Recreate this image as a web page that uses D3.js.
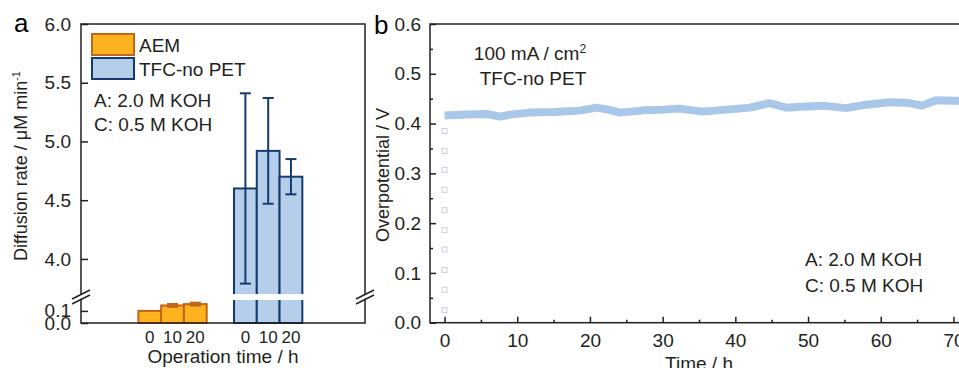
<!DOCTYPE html>
<html>
<head>
<meta charset="utf-8">
<script src="https://cdn.jsdelivr.net/npm/d3@7"></script>
<style>
  body { margin: 0; background: #fff; }
  svg { font-family: "Liberation Sans", Arial, sans-serif; }
</style>
</head>
<body>
<svg id="chart" width="959" height="368"></svg>
<script>
// ---- panel a data ----
const groups = ["AEM", "TFC-no PET"];
const times = [0, 10, 20];
const aemRate = [0.10, 0.145, 0.156];
const aemErr = [0, 0.012, 0.012];
const tfcRate = [4.60, 4.92, 4.70];
const tfcErr = [0.81, 0.45, 0.15];
const yTicksA = [0.0, 0.1, 4.0, 4.5, 5.0, 5.5, 6.0];

// ---- panel b data ----
const tHours = [0, 3, 6, 7.6, 9, 11.7, 15, 18.6, 20.9, 22.5, 24.1, 27.7, 30, 32.3, 35.5, 39.6, 42, 44.7, 47, 49, 52, 55.2, 58, 61.2, 63.5, 65.7, 67.6, 70, 72];
const overpot = [0.416, 0.418, 0.419, 0.414, 0.418, 0.422, 0.423, 0.426, 0.432, 0.428, 0.422, 0.427, 0.428, 0.430, 0.424, 0.429, 0.432, 0.441, 0.432, 0.434, 0.436, 0.431, 0.438, 0.443, 0.442, 0.436, 0.447, 0.446, 0.446];
const rampV = [0.025, 0.066, 0.106, 0.147, 0.186, 0.226, 0.267, 0.307, 0.345, 0.385];
const xTicksB = [0, 10, 20, 30, 40, 50, 60, 70];
const yTicksB = [0, 0.1, 0.2, 0.3, 0.4, 0.5, 0.6];

const svg = d3.select("#chart");
const fs = "19px";
const dark = "#231f20";

const colors = {
  "AEM": {fill: "#FDB21F", stroke: "#C0661A"},
  "TFC-no PET": {fill: "#B5CFEA", stroke: "#163A6E"}
};

// ================= panel a =================
const aL = 81, aR = 365, aT = 24, aB = 323;
// broken axis: lower part 0-0.19, upper part 3.71-6.0
const yA = d3.scaleLinear().domain([0, 0.19, 3.71, 6.0]).range([aB, 300, 293, aT]);
const x0 = d3.scaleBand().domain(groups).range([124.7, 316]);
const x1 = d3.scaleBand().domain(times).range([0, x0.bandwidth()]).paddingOuter(0.6);

const ga = svg.append("g");

const barData = [];
groups.forEach(function(g, gi) {
  times.forEach(function(t, i) {
    barData.push({
      group: g, time: t,
      v: gi === 0 ? aemRate[i] : tfcRate[i],
      e: gi === 0 ? aemErr[i] : tfcErr[i]
    });
  });
});

ga.selectAll("rect.bar").data(barData).enter().append("rect")
  .attr("class", "bar")
  .attr("x", d => x0(d.group) + x1(d.time))
  .attr("y", d => yA(d.v))
  .attr("width", x1.bandwidth())
  .attr("height", d => yA(0) - yA(d.v))
  .attr("fill", d => colors[d.group].fill)
  .attr("stroke", d => colors[d.group].stroke)
  .attr("stroke-width", 2);

// error bars
const errData = barData.filter(d => d.e > 0);
const cap = 11;
ga.selectAll("g.err").data(errData).enter().append("g")
  .each(function(d) {
    const cx = x0(d.group) + x1(d.time) + x1.bandwidth() / 2;
    const g = d3.select(this);
    const c = colors[d.group].stroke;
    g.append("line").attr("x1", cx).attr("x2", cx)
      .attr("y1", yA(d.v + d.e)).attr("y2", yA(d.v - d.e))
      .attr("stroke", c).attr("stroke-width", 2);
    [d.v + d.e, d.v - d.e].forEach(function(v) {
      g.append("line").attr("x1", cx - cap / 2).attr("x2", cx + cap / 2)
        .attr("y1", yA(v)).attr("y2", yA(v))
        .attr("stroke", c).attr("stroke-width", 2);
    });
  });

// white gap of the axis break across bars
ga.append("rect").attr("x", aL + 2).attr("y", yA(3.71) + 1)
  .attr("width", aR - aL - 4).attr("height", yA(0.19) - yA(3.71) - 1)
  .attr("fill", "#fff");

// frame
ga.append("rect").attr("x", aL).attr("y", aT).attr("width", aR - aL).attr("height", aB - aT)
  .attr("fill", "none").attr("stroke", dark).attr("stroke-width", 1.5);

// y axis
const axA = ga.append("g").attr("transform", `translate(${aL},0)`)
  .call(d3.axisLeft(yA).tickValues(yTicksA).tickSize(-7).tickPadding(10).tickFormat(d3.format(".1f")));
axA.select(".domain").remove();
axA.selectAll("line").attr("stroke", dark).attr("stroke-width", 1.5);
axA.selectAll("text").attr("font-size", fs).attr("fill", dark).attr("font-family", null);

// break marks on left and right axes
function breakMark(cx, cy) {
  const g = ga.append("g");
  g.append("polygon")
    .attr("points", `${cx - 8},${cy + 6} ${cx + 8},${cy - 3} ${cx + 8},${cy - 7} ${cx - 8},${cy + 2}`)
    .attr("fill", "#fff");
  [[cx - 9, cy + 7, cx + 9, cy - 2], [cx - 9, cy + 2, cx + 9, cy - 7]].forEach(function(p) {
    g.append("line").attr("x1", p[0]).attr("y1", p[1]).attr("x2", p[2]).attr("y2", p[3])
      .attr("stroke", dark).attr("stroke-width", 1.5);
  });
}
breakMark(aL, 297);
breakMark(aR, 297);

// x tick labels under bars
ga.selectAll("text.xt").data(barData).enter().append("text")
  .attr("class", "xt")
  .attr("x", d => x0(d.group) + x1(d.time) + x1.bandwidth() / 2)
  .attr("y", 343)
  .attr("text-anchor", "middle")
  .attr("font-size", "17px").attr("fill", dark)
  .text(d => d.time);

ga.append("text").attr("x", 223).attr("y", 363).attr("text-anchor", "middle")
  .attr("font-size", fs).attr("fill", dark).text("Operation time / h");

const yTitleA = ga.append("text")
  .attr("transform", "translate(27,166) rotate(-90)")
  .attr("text-anchor", "middle").attr("font-size", "18px").attr("fill", dark);
yTitleA.append("tspan").text("Diffusion rate / \u03bcM min");
yTitleA.append("tspan").attr("dy", -7).attr("font-size", "11px").text("-1");

// legend
groups.forEach(function(g, i) {
  const y = 34 + i * 24;
  ga.append("rect").attr("x", 92).attr("y", y).attr("width", 42).attr("height", 21)
    .attr("fill", colors[g].fill).attr("stroke", colors[g].stroke).attr("stroke-width", 2);
  ga.append("text").attr("x", 139).attr("y", y + 18).attr("font-size", fs).attr("fill", dark).text(g);
});

ga.append("text").attr("x", 94).attr("y", 107).attr("font-size", fs).attr("fill", dark).text("A: 2.0 M KOH");
ga.append("text").attr("x", 94).attr("y", 131).attr("font-size", fs).attr("fill", dark).text("C: 0.5 M KOH");

svg.append("text").attr("x", 14).attr("y", 32).attr("font-size", "26px").attr("fill", "#000").text("a");

// ================= panel b =================
const bL = 430, bT = 24, bB = 322.7;
const xB = d3.scaleLinear().domain([-2, 75]).range([bL, bL + 77 * 7.27]);
const yB = d3.scaleLinear().domain([0, 0.6]).range([bB, bT]);
const bR = xB(75);

const gb = svg.append("g");

// ramp-up points at t = 0
gb.selectAll("rect.pt").data(rampV).enter().append("rect")
  .attr("class", "pt")
  .attr("x", xB(0) - 2.5).attr("y", d => yB(d) - 2.5)
  .attr("width", 5).attr("height", 5)
  .attr("fill", "#fff").attr("stroke", "#c9d1dc").attr("stroke-width", 1);

// overpotential trace
const line = d3.line().x((d, i) => xB(tHours[i])).y(d => yB(d));
gb.append("path").datum(overpot)
  .attr("d", line)
  .attr("fill", "none")
  .attr("stroke", "#A9C7E8")
  .attr("stroke-width", 8)
  .attr("stroke-linejoin", "round");

// frame
gb.append("rect").attr("x", bL).attr("y", bT).attr("width", bR - bL).attr("height", bB - bT)
  .attr("fill", "none").attr("stroke", dark).attr("stroke-width", 1.5);

function styleAxis(sel) {
  sel.select(".domain").remove();
  sel.selectAll("line").attr("stroke", dark).attr("stroke-width", 1.5);
  sel.selectAll("text").attr("font-size", fs).attr("fill", dark).attr("font-family", null);
}

const minorX = d3.range(5, 75, 10);
const minorY = d3.range(0.05, 0.6, 0.1);

gb.append("g").attr("transform", `translate(0,${bB})`)
  .call(d3.axisBottom(xB).tickValues(xTicksB).tickSize(-6).tickPadding(11))
  .call(styleAxis);
gb.append("g").attr("transform", `translate(0,${bB})`)
  .call(d3.axisBottom(xB).tickValues(minorX).tickSize(-3).tickFormat(""))
  .call(styleAxis);
gb.append("g").attr("transform", `translate(${bL},0)`)
  .call(d3.axisLeft(yB).tickValues(yTicksB).tickSize(-6).tickPadding(9).tickFormat(d3.format(".1f")))
  .call(styleAxis);
gb.append("g").attr("transform", `translate(${bL},0)`)
  .call(d3.axisLeft(yB).tickValues(minorY).tickSize(-3).tickFormat(""))
  .call(styleAxis);

gb.append("text").attr("x", 699).attr("y", 370).attr("text-anchor", "middle")
  .attr("font-size", fs).attr("fill", dark).text("Time / h");

gb.append("text").attr("transform", "translate(389,175) rotate(-90)")
  .attr("text-anchor", "middle").attr("font-size", "18px").attr("fill", dark)
  .text("Overpotential / V");

const t1 = gb.append("text").attr("x", 530).attr("y", 60).attr("text-anchor", "middle")
  .attr("font-size", fs).attr("fill", dark);
t1.append("tspan").text("100 mA / cm");
t1.append("tspan").attr("dy", -7).attr("font-size", "12px").text("2");
gb.append("text").attr("x", 533).attr("y", 85).attr("text-anchor", "middle")
  .attr("font-size", fs).attr("fill", dark).text("TFC-no PET");

gb.append("text").attr("x", 805).attr("y", 266).attr("font-size", fs).attr("fill", dark).text("A: 2.0 M KOH");
gb.append("text").attr("x", 805).attr("y", 292).attr("font-size", fs).attr("fill", dark).text("C: 0.5 M KOH");

svg.append("text").attr("x", 374).attr("y", 34).attr("font-size", "26px").attr("fill", "#000").text("b");
</script>
</body>
</html>
